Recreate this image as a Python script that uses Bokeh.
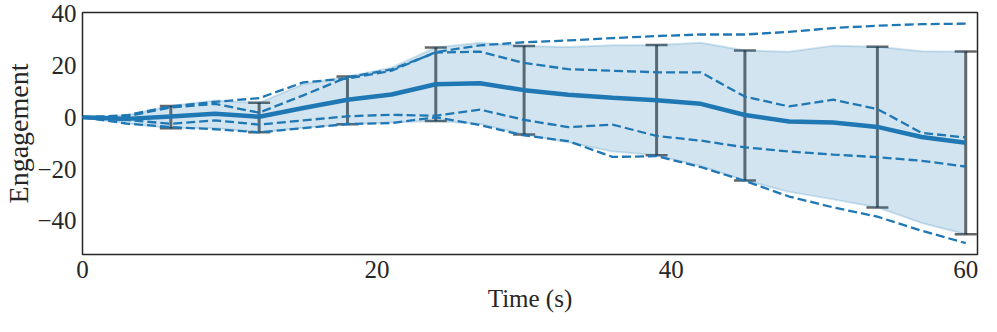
from bokeh.plotting import figure
from bokeh.models import ColumnDataSource, Whisker, TeeHead, FixedTicker, Range1d
from bokeh.embed import file_html
from bokeh.resources import INLINE

# ---- data ----
time_s = [0, 3, 6, 9, 12, 15, 18, 21, 24, 27, 30, 33, 36, 39, 42, 45, 48, 51, 54, 57, 60]

run_a = [0, 0.8, 4.2, 6.0, 7.4, 13.5, 15.0, 18.0, 25.2, 27.8, 29.0, 29.7, 30.6, 31.4, 32.0, 32.0, 33.0, 34.5, 35.4, 36.0, 36.2]
run_b = [0, 0.4, 3.8, 5.2, 1.8, 8.5, 15.5, 18.5, 25.0, 25.4, 21.0, 18.6, 18.0, 17.4, 17.4, 8.0, 4.2, 6.8, 3.2, -6.0, -7.8]
run_c = [0, -1.0, -2.5, -1.2, -2.8, -1.2, 0.4, 1.0, 0.6, 3.0, -1.0, -3.8, -2.8, -7.2, -9.0, -11.6, -13.2, -14.4, -15.4, -16.8, -19.0]
run_d = [0, -2.4, -3.8, -4.6, -5.8, -4.2, -2.6, -2.2, 0.0, -3.0, -7.0, -9.2, -15.3, -15.0, -19.2, -24.6, -30.6, -34.8, -38.4, -43.8, -48.6]

mean_eng = [0, -0.6, 0.3, 1.4, 0.2, 3.6, 6.8, 8.8, 12.8, 13.2, 10.5, 8.7, 7.6, 6.6, 5.2, 0.9, -1.6, -2.0, -3.7, -7.6, -9.8]
band_hi = [0, 0.8, 4.4, 6.5, 5.6, 12.8, 15.8, 19.2, 27.0, 28.8, 27.6, 27.2, 27.8, 27.9, 28.8, 25.8, 25.3, 27.7, 27.3, 25.5, 25.4]
band_lo = [0, -2.4, -4.2, -4.2, -5.8, -4.0, -2.7, -2.0, -1.4, -2.6, -6.6, -9.6, -13.2, -14.7, -18.8, -24.4, -28.8, -31.7, -34.8, -40.8, -45.2]

err_times = [6, 12, 18, 24, 30, 39, 45, 54, 60]

x_ticks = [0, 20, 40, 60]
y_ticks = [-40, -20, 0, 20, 40]
y_tick_labels = {-40: "\u221240", -20: "\u221220", 0: "0", 20: "20", 40: "40"}

BLUE = "#1f77b4"
FONT = "Liberation Serif"

p = figure(width=981, height=316, output_backend="svg", toolbar_location=None,
           x_range=Range1d(0, 60.8), y_range=Range1d(-53, 40.5),
           min_border_left=71, min_border_right=4, min_border_top=12, min_border_bottom=62)
p.background_fill_color = "white"
p.border_fill_color = "white"
p.outline_line_color = "#262626"
p.outline_line_width = 1.5
p.grid.visible = False

# band
p.varea(x=time_s, y1=band_lo, y2=band_hi, fill_color=BLUE, fill_alpha=0.2)
p.line(time_s, band_hi, line_color=BLUE, line_alpha=0.2, line_width=2)
p.line(time_s, band_lo, line_color=BLUE, line_alpha=0.2, line_width=2)

# individual runs
for run in (run_a, run_b, run_c, run_d):
    p.line(time_s, run, line_color=BLUE, line_width=2.3, line_dash="9 4")

# mean
p.line(time_s, mean_eng, line_color=BLUE, line_width=4.5)

# error bars
idx = [time_s.index(t) for t in err_times]
err_src = ColumnDataSource(dict(x=err_times,
                                lo=[band_lo[i] for i in idx],
                                hi=[band_hi[i] for i in idx]))
w = Whisker(base="x", lower="lo", upper="hi", source=err_src, dimension="height",
            line_color="black", line_alpha=0.6, line_width=3,
            upper_head=TeeHead(size=22, line_color="black", line_alpha=0.6, line_width=2.5),
            lower_head=TeeHead(size=22, line_color="black", line_alpha=0.6, line_width=2.5))
p.add_layout(w)

# axes
for ax in (p.xaxis[0], p.yaxis[0]):
    ax.axis_line_color = None
    ax.major_tick_line_color = None
    ax.minor_tick_line_color = None
    ax.major_tick_in = 0
    ax.major_tick_out = 0
    ax.major_label_text_font = FONT
    ax.major_label_text_font_size = "25px"
    ax.major_label_text_color = "#262626"
    ax.axis_label_text_font = FONT
    ax.axis_label_text_font_style = "normal"
    ax.axis_label_text_color = "#262626"

p.xaxis.axis_label_text_font_size = "25px"
p.yaxis.axis_label_text_font_size = "28px"
p.xaxis.ticker = FixedTicker(ticks=x_ticks)
p.yaxis.ticker = FixedTicker(ticks=y_ticks)
p.yaxis.major_label_overrides = y_tick_labels
p.xaxis.axis_label = "Time (s)"
p.yaxis.axis_label = "Engagement"
p.xaxis.major_label_standoff = 6
p.yaxis.major_label_standoff = 6
p.xaxis.axis_label_standoff = 4
p.yaxis.axis_label_standoff = 0

open("out.html", "w").write(file_html(p, INLINE))
